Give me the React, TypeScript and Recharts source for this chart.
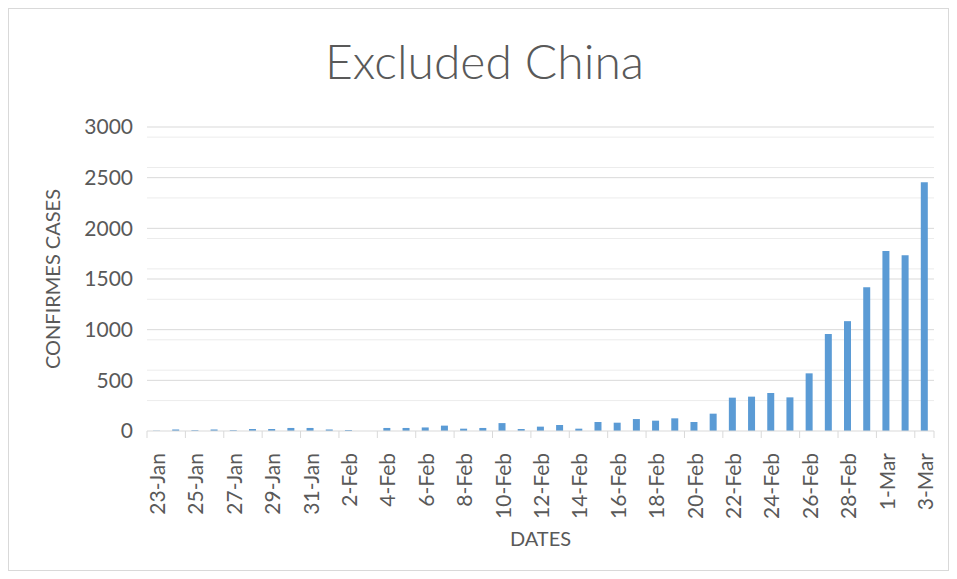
import React from "react";
import {
  BarChart,
  Bar,
  XAxis,
  YAxis,
  CartesianGrid,
  Label,
} from "recharts";

const dates = [
  "23-Jan", "24-Jan", "25-Jan", "26-Jan", "27-Jan", "28-Jan", "29-Jan", "30-Jan", "31-Jan",
  "1-Feb", "2-Feb", "3-Feb", "4-Feb", "5-Feb", "6-Feb", "7-Feb", "8-Feb", "9-Feb", "10-Feb",
  "11-Feb", "12-Feb", "13-Feb", "14-Feb", "15-Feb", "16-Feb", "17-Feb", "18-Feb", "19-Feb",
  "20-Feb", "21-Feb", "22-Feb", "23-Feb", "24-Feb", "25-Feb", "26-Feb", "27-Feb", "28-Feb",
  "29-Feb", "1-Mar", "2-Mar", "3-Mar",
];

const cases = [
  3, 15, 8, 15, 8, 20, 20, 30, 30,
  15, 10, 0, 30, 30, 35, 53, 23, 30, 78,
  20, 43, 59, 23, 89, 82, 118, 102, 125,
  89, 171, 329, 339, 375, 332, 569, 957, 1084,
  1418, 1777, 1734, 2454,
];

const yTicks = [0, 500, 1000, 1500, 2000, 2500, 3000];
const minorGrid = [
  100, 200, 300, 400, 600, 700, 800, 900, 1100, 1200, 1300, 1400, 1600, 1700, 1800, 1900,
  2100, 2200, 2300, 2400, 2600, 2700, 2800, 2900,
];
const majorGrid = [500, 1000, 1500, 2000, 2500, 3000];

const data = dates.map((d, i) => ({ date: d, cases: cases[i] }));

const FONT = "Lato, sans-serif";
const TEXT = "#595959";
const GRID = "#d9d9d9";
const W = 939;
const H = 561;
const PLOT_W = 787;
const BAND = PLOT_W / dates.length;

function DateTick(props: any) {
  const { x, y, payload, index } = props;
  const last = index === Math.floor((dates.length - 1) / 2);
  return (
    <g>
      <line x1={x - BAND / 2} y1={y} x2={x - BAND / 2} y2={y + 7} stroke={GRID} strokeWidth={1} />
      {last && (
        <line x1={x + BAND / 2} y1={y} x2={x + BAND / 2} y2={y + 7} stroke={GRID} strokeWidth={1} />
      )}
      <text
        x={x}
        y={y + 22}
        transform={`rotate(-90, ${x}, ${y + 22})`}
        textAnchor="end"
        dominantBaseline="central"
        fill={TEXT}
        style={{ fontSize: 21, fontFamily: FONT }}
      >
        {payload.value}
      </text>
    </g>
  );
}

export default function App() {
  return (
    <div
      style={{
        position: "relative",
        width: W,
        height: H,
        border: `1px solid ${GRID}`,
        background: "#fff",
        fontFamily: FONT,
      }}
    >
      <div
        style={{
          position: "absolute",
          top: 28,
          left: 6,
          width: W,
          textAlign: "center",
          fontSize: 48,
          fontWeight: 300,
          lineHeight: "48px",
          color: TEXT,
          fontFamily: FONT,
        }}
      >
        Excluded China
      </div>
      <BarChart
        width={W}
        height={H}
        data={data}
        margin={{ top: 118, right: W - 138 - PLOT_W, bottom: 0, left: 0 }}
        barSize={7}
      >
        <CartesianGrid vertical={false} horizontalValues={minorGrid} stroke="#ececec" />
        <CartesianGrid vertical={false} horizontalValues={majorGrid} stroke={GRID} />
        <XAxis
          dataKey="date"
          interval={1}
          height={139}
          tickSize={0}
          tickMargin={0}
          tickLine={false}
          axisLine={{ stroke: GRID }}
          tick={<DateTick />}
        >
          <Label
            value="DATES"
            position="insideBottom"
            offset={24}
            style={{ fontSize: 20, fill: TEXT, fontFamily: FONT }}
          />
        </XAxis>
        <YAxis
          width={138}
          domain={[0, 3000]}
          ticks={yTicks}
          tickLine={false}
          axisLine={false}
          tickSize={0}
          tickMargin={14}
          tick={{ fontSize: 21, fill: TEXT, fontFamily: FONT }}
        >
          <Label
            value="CONFIRMES CASES"
            angle={-90}
            position="insideLeft"
            offset={44}
            style={{ fontSize: 20, fill: TEXT, fontFamily: FONT, textAnchor: "middle" }}
          />
        </YAxis>
        <Bar dataKey="cases" fill="#5B9BD5" isAnimationActive={false} />
      </BarChart>
    </div>
  );
}
